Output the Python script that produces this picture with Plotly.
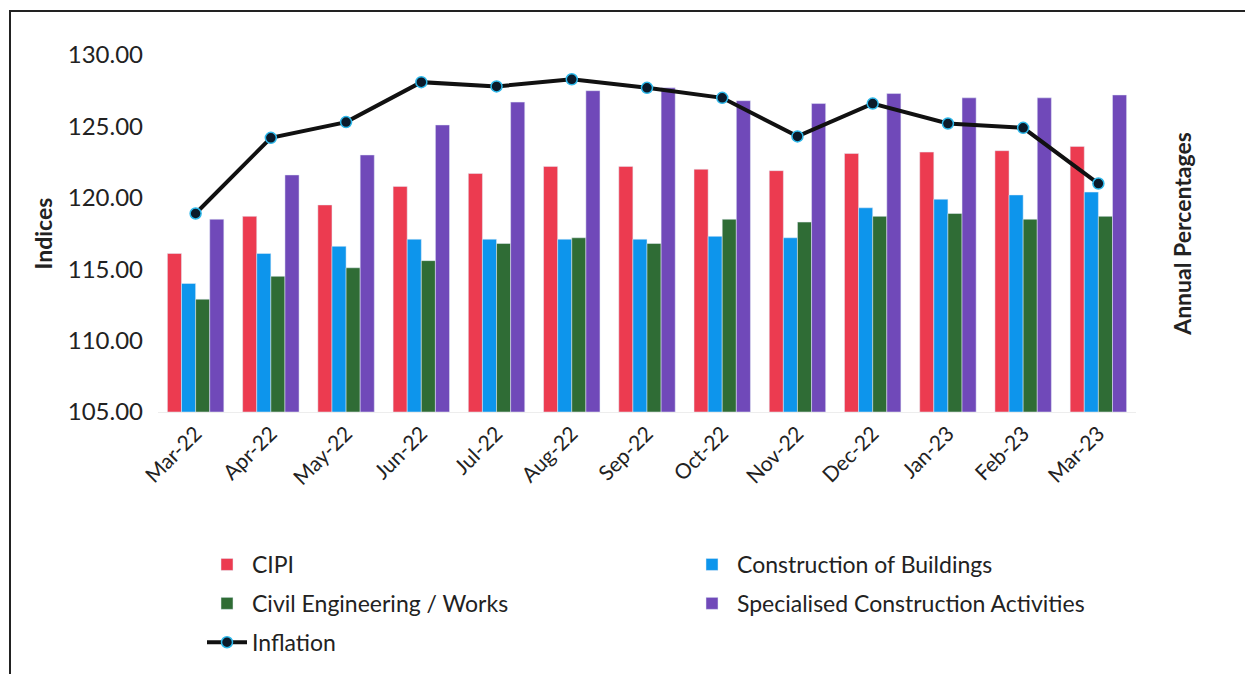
import plotly.graph_objects as go

months = ["Mar-22", "Apr-22", "May-22", "Jun-22", "Jul-22", "Aug-22", "Sep-22",
          "Oct-22", "Nov-22", "Dec-22", "Jan-23", "Feb-23", "Mar-23"]
cipi = [116.1, 118.7, 119.5, 120.8, 121.7, 122.2, 122.2, 122.0, 121.9, 123.1, 123.2, 123.3, 123.6]
buildings = [114.0, 116.1, 116.6, 117.1, 117.1, 117.1, 117.1, 117.3, 117.2, 119.3, 119.9, 120.2, 120.4]
civil = [112.9, 114.5, 115.1, 115.6, 116.8, 117.2, 116.8, 118.5, 118.3, 118.7, 118.9, 118.5, 118.7]
specialised = [118.5, 121.6, 123.0, 125.1, 126.7, 127.5, 127.7, 126.8, 126.6, 127.3, 127.0, 127.0, 127.2]
inflation = [118.9, 124.2, 125.3, 128.1, 127.8, 128.3, 127.7, 127.0, 124.3, 126.6, 125.2, 124.9, 121.0]
y_ticks = [105, 110, 115, 120, 125, 130]
y_tick_text = ["105.00", "110.00", "115.00", "120.00", "125.00", "130.00"]

FONT = "Lato"
OFF = 8  # page body margin
W, H = 1253 - OFF, 674 - OFF
# plot area in screen pixels
SL, SR, ST, SB = 158, 1136, 55, 412
ML, MT = SL - OFF, ST - OFF
MR, MB = W - (SR - OFF), H - (SB - OFF)
PW, PH = W - ML - MR, H - MT - MB

def px_x(p):  # screen px -> paper
    return (p - OFF - ML) / PW

def px_y(p):
    return (H - MB - (p - OFF)) / PH

fig = go.Figure()
base = 105
fig.add_bar(x=months, y=[v - base for v in cipi], base=base, name="CIPI",
            marker_color="#EC3B50", legend="legend", legendgroup="a")
fig.add_bar(x=months, y=[v - base for v in buildings], base=base, name="Construction of Buildings",
            marker_color="#0D95EC", legend="legend2", legendgroup="b")
fig.add_bar(x=months, y=[v - base for v in civil], base=base, name="Civil Engineering / Works",
            marker_color="#2F6C35", legend="legend", legendgroup="c")
fig.add_bar(x=months, y=[v - base for v in specialised], base=base, name="Specialised Construction Activities",
            marker_color="#7049B9", legend="legend2", legendgroup="d")
fig.add_scatter(x=months, y=inflation, name="Inflation", yaxis="y2", mode="lines+markers",
                line=dict(color="#111111", width=4),
                marker=dict(size=11, color="#0B1A2A", line=dict(color="#2DB8EA", width=1.5)),
                legend="legend", legendgroup="e")

legend_common = dict(orientation="v", yanchor="top", xanchor="left",
                     font=dict(family=FONT, size=23, color="#222222"),
                     tracegroupgap=6, itemwidth=40, bgcolor="rgba(0,0,0,0)")

frame = dict(color="#222222", width=2)
fig.update_layout(
    width=W, height=H,
    margin=dict(l=ML, r=MR, t=MT, b=MB, autoexpand=False),
    paper_bgcolor="white", plot_bgcolor="white",
    barmode="group", bargap=0.25, bargroupgap=0,
    font=dict(family=FONT, size=20, color="#222222"),
    xaxis=dict(tickangle=-45, tickfont=dict(size=21), showgrid=False, ticks="",
               range=[-0.5, len(months) - 0.5],
               showline=True, linecolor="#EDEDED", linewidth=1, automargin=False),
    yaxis=dict(range=[105, 130], tickvals=y_ticks, ticktext=y_tick_text, showgrid=False,
               zeroline=False, ticks="", tickfont=dict(size=24), ticklabelstandoff=14,
               automargin=False,
               title=dict(text="<b>Indices</b>", font=dict(size=23), standoff=8)),
    yaxis2=dict(range=[105, 130], overlaying="y", side="right", showticklabels=False,
                showgrid=False, zeroline=False, ticks="", automargin=False,
                title=dict(text="<b>Annual Percentages</b>", font=dict(size=23), standoff=38)),
    legend=dict(x=px_x(202), y=px_y(543), **legend_common),
    legend2=dict(x=px_x(687), y=px_y(543), **legend_common),
    showlegend=True,
    shapes=[
        dict(type="line", xref="paper", yref="paper",
             x0=px_x(9), x1=px_x(1260), y0=px_y(11), y1=px_y(11), line=frame, layer="below"),
        dict(type="line", xref="paper", yref="paper",
             x0=px_x(10), x1=px_x(10), y0=px_y(10), y1=px_y(700), line=frame, layer="below"),
    ],
)

fig.write_html("out.html")
